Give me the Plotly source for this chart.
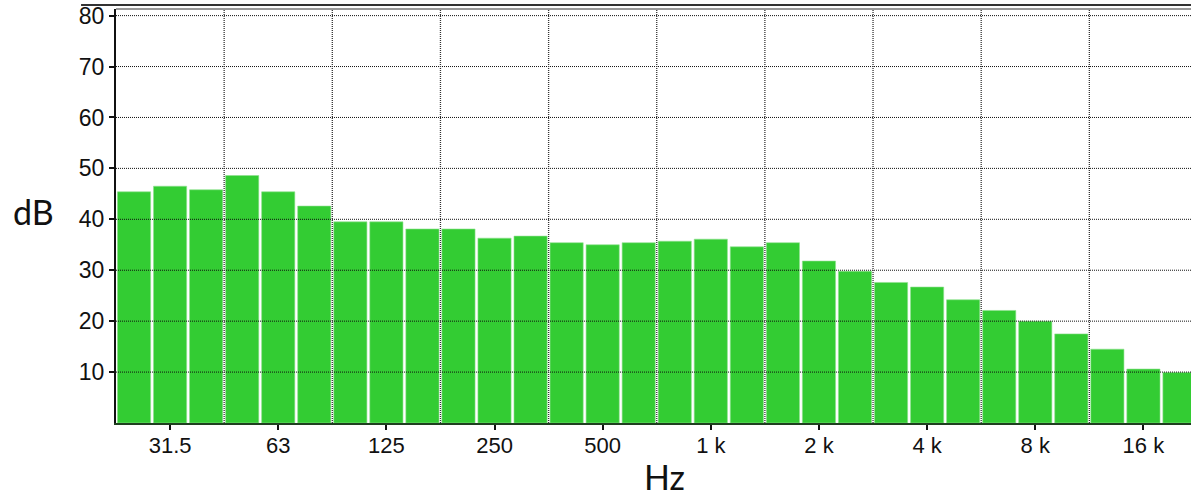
import plotly.graph_objects as go

# 1/3-octave band centre frequencies (labels) and measured levels (dB)
bands = ["25", "31.5", "40", "50", "63", "80", "100", "125", "160", "200",
         "250", "315", "400", "500", "630", "800", "1 k", "1.25 k", "1.6 k", "2 k",
         "2.5 k", "3.15 k", "4 k", "5 k", "6.3 k", "8 k", "10 k", "12.5 k", "16 k", "20 k"]
levels = [45.4, 46.5, 45.8, 48.6, 45.4, 42.6, 39.5, 39.5, 38.1, 38.1,
          36.3, 36.7, 35.4, 35.0, 35.4, 35.7, 36.1, 34.6, 35.4, 31.8,
          29.8, 27.6, 26.7, 24.2, 22.1, 20.0, 17.5, 14.5, 10.6, 9.9]
tick_bands = ["31.5", "63", "125", "250", "500", "1 k", "2 k", "4 k", "8 k", "16 k"]
y_ticks = [10, 20, 30, 40, 50, 60, 70, 80]

fig = go.Figure()
fig.add_trace(go.Bar(
    x=bands, y=levels,
    marker=dict(color="#33CC33", line=dict(color="#8fe08f", width=0.6)),
    hoverinfo="x+y",
))

shapes = []
# horizontal dotted grid drawn over the bars
for v in y_ticks:
    shapes.append(dict(type="line", xref="paper", yref="y", x0=0, x1=1, y0=v, y1=v,
                       line=dict(color="#111111", width=1, dash="1px,1px"), layer="above"))
# vertical grid at octave boundaries (every third band edge)
for i in range(len(bands)):
    if i % 3 == 2 and i + 1 < len(bands) - 2:
        shapes.append(dict(type="line", xref="x", yref="paper", x0=i + 0.5, x1=i + 0.5, y0=0, y1=1,
                           line=dict(color="#333333", width=1.3, dash="1px,1px"), layer="above"))
# frame: top border and outer rule
shapes.append(dict(type="line", xref="paper", yref="paper", x0=0, x1=1, y0=1, y1=1,
                   line=dict(color="#999999", width=2), layer="above"))
shapes.append(dict(type="line", xref="paper", yref="paper", x0=-0.0325, x1=1, y0=1.0097, y1=1.0097,
                   line=dict(color="#333333", width=2), layer="above"))

fig.update_layout(
    width=1191, height=501,
    margin=dict(l=116, r=0, t=9, b=78),
    paper_bgcolor="white", plot_bgcolor="white",
    bargap=0.08,
    showlegend=False,
    shapes=shapes,
    xaxis=dict(
        type="category",
        range=[-0.5, 29.32],
        tickmode="array", tickvals=tick_bands, ticktext=tick_bands,
        ticks="outside", ticklen=5, tickwidth=1.5, tickcolor="#111111",
        ticklabelstandoff=-3,
        tickfont=dict(family="Liberation Sans, Arial, sans-serif", size=22, color="#111111"),
        showgrid=False, zeroline=False,
        showline=True, linecolor="#1f3f1f", linewidth=2,
        layer="above traces",
    ),
    yaxis=dict(
        range=[0, 81.3],
        tickmode="array", tickvals=y_ticks,
        ticks="outside", ticklen=5, tickwidth=1.5, tickcolor="#111111",
        tickfont=dict(family="Liberation Sans Narrow, Arial Narrow, Liberation Sans, sans-serif",
                      size=23, color="#111111"),
        showgrid=False, zeroline=False,
        showline=True, linecolor="#111111", linewidth=2,
        layer="above traces",
    ),
    annotations=[
        dict(text="dB", xref="paper", yref="paper", x=-0.0771, y=0.5097,
             xanchor="center", yanchor="middle", showarrow=False,
             font=dict(family="Lato, Open Sans, sans-serif", size=34, color="#111111")),
        dict(text="Hz", xref="paper", yref="paper", x=0.510, y=-0.130,
             xanchor="center", yanchor="middle", showarrow=False,
             font=dict(family="Lato, Open Sans, sans-serif", size=34, color="#111111")),
    ],
)

fig.write_html(
    "out.html",
    config={"displayModeBar": False},
    post_script="document.body.style.margin='0';document.body.style.padding='0';"
                "document.body.style.overflow='hidden';",
)
